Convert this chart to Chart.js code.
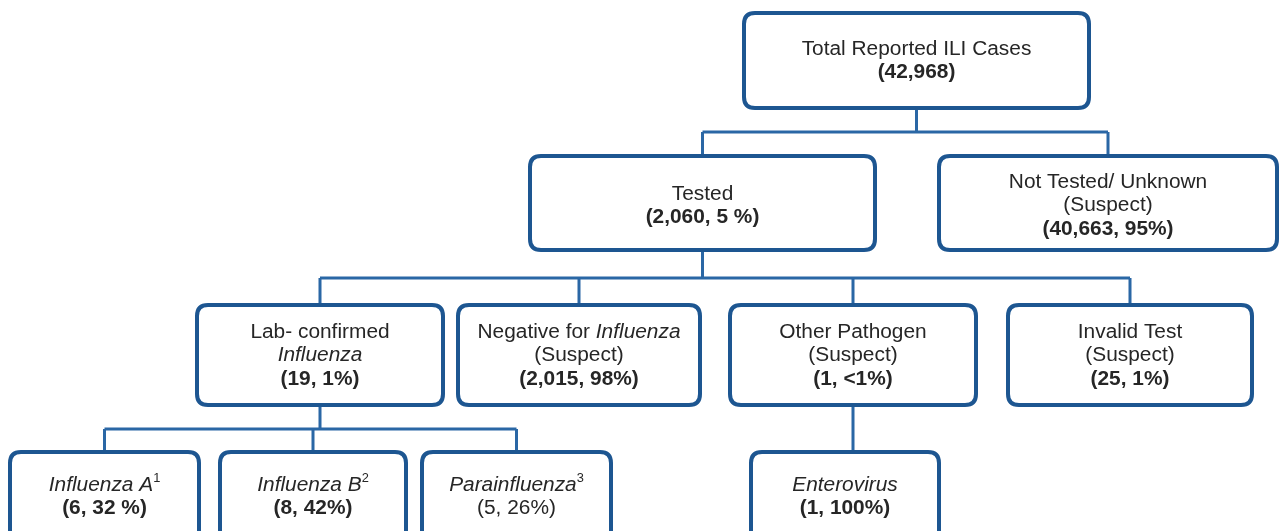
<!DOCTYPE html>
<html>
<head>
<meta charset="utf-8">
<title>ILI cases flow</title>
<script src="https://cdn.jsdelivr.net/npm/chart.js@4.4.1/dist/chart.umd.min.js"></script>
<style>
    html, body { margin: 0; padding: 0; background: #ffffff; }
    #wrap { width: 1280px; height: 531px; }
</style>
</head>
<body>
<div id="wrap"><canvas id="flowChart" width="1280" height="531"></canvas></div>
<script>
    // Node titles: each line is a list of [text, style] runs (n = normal, i = italic, s = superscript)
    const nodeTitles = [
        [[['Total Reported ILI Cases', 'n']]],
        [[['Tested', 'n']]],
        [[['Not Tested/ Unknown', 'n']], [['(Suspect)', 'n']]],
        [[['Lab- confirmed', 'n']], [['Influenza', 'i']]],
        [[['Negative for ', 'n'], ['Influenza', 'i']], [['(Suspect)', 'n']]],
        [[['Other Pathogen', 'n']], [['(Suspect)', 'n']]],
        [[['Invalid Test', 'n']], [['(Suspect)', 'n']]],
        [[['Influenza A', 'i'], ['1', 's']]],
        [[['Influenza B', 'i'], ['2', 's']]],
        [[['Parainfluenza', 'i'], ['3', 's']]],
        [[['Enterovirus', 'i']]]
    ];
    const nodeCounts = [42968, 2060, 40663, 19, 2015, 1, 25, 6, 8, 5, 1];
    const nodePercents = ['', '5 %', '95%', '1%', '98%', '<1%', '1%', '32 %', '42%', '26%', '100%'];
    const countBold = [true, true, true, true, true, true, true, true, true, false, true];
    const nodeParents = [null, 0, 0, 1, 1, 1, 1, 3, 3, 3, 5];

    // Layout of the boxes in chart units (x: 0-1280, y: 0-531 top down)
    const boxLeft   = [744, 530, 939, 197, 458, 730, 1008, 10, 220, 422, 751];
    const boxRight  = [1089, 875, 1277, 443, 700, 976, 1252, 199, 406, 611, 939];
    const rowTop    = [13, 156, 305, 452];
    const rowBottom = [108, 250, 405, 570];
    const rowTextMid = [61, 206, 356, 497];
    const nodeRow   = [0, 1, 1, 2, 2, 2, 2, 3, 3, 3, 3];
    const busY = { 0: 132, 1: 278, 3: 429 };

    const BORDER = '#1d5691';
    const LINK = '#2a67a5';
    const FONT = '"Liberation Sans", Arial, sans-serif';
    const FONT_SIZE = 19.5;
    const TEXT_STRETCH = 1.07;
    const LINE_GAP = 23.5;

    function centerX(i) { return (boxLeft[i] + boxRight[i]) / 2; }

    // Build connector segments as line datasets
    function buildLinks() {
        const sets = [];
        const seg = (pts) => sets.push({
            data: pts,
            showLine: true,
            borderColor: LINK,
            borderWidth: 3,
            pointRadius: 0,
            fill: false,
            tension: 0
        });
        nodeTitles.forEach((_, p) => {
            const kids = nodeParents.map((par, k) => par === p ? k : -1).filter(k => k >= 0);
            if (!kids.length) return;
            const px = centerX(p);
            const pBottom = rowBottom[nodeRow[p]];
            if (kids.length === 1) {
                seg([{ x: px, y: pBottom }, { x: px, y: rowTop[nodeRow[kids[0]]] }]);
                return;
            }
            const by = busY[p];
            const xs = kids.map(centerX);
            seg([{ x: px, y: pBottom }, { x: px, y: by }]);
            seg([{ x: Math.min(...xs), y: by }, { x: Math.max(...xs), y: by }]);
            kids.forEach(k => seg([{ x: centerX(k), y: by }, { x: centerX(k), y: rowTop[nodeRow[k]] }]));
        });
        return sets;
    }

    function roundRect(ctx, x, y, w, h, r) {
        ctx.beginPath();
        ctx.moveTo(x + r, y);
        ctx.lineTo(x + w - r, y);
        ctx.quadraticCurveTo(x + w, y, x + w, y + r);
        ctx.lineTo(x + w, y + h - r);
        ctx.quadraticCurveTo(x + w, y + h, x + w - r, y + h);
        ctx.lineTo(x + r, y + h);
        ctx.quadraticCurveTo(x, y + h, x, y + h - r);
        ctx.lineTo(x, y + r);
        ctx.quadraticCurveTo(x, y, x + r, y);
        ctx.closePath();
    }

    function runFont(style) {
        if (style === 'i') return 'italic ' + FONT_SIZE + 'px ' + FONT;
        if (style === 'b') return 'bold ' + FONT_SIZE + 'px ' + FONT;
        if (style === 's') return '12px ' + FONT;
        return FONT_SIZE + 'px ' + FONT;
    }

    // Draw one centred line made of mixed-style runs (scan text is a bit wide, hence the stretch)
    function drawLine(ctx, runs, cx, cy) {
        let total = 0;
        const widths = runs.map(r => {
            ctx.font = runFont(r[1]);
            const w = ctx.measureText(r[0]).width;
            total += w;
            return w;
        });
        ctx.save();
        ctx.translate(cx, cy);
        ctx.scale(TEXT_STRETCH, 1);
        let x = -total / 2;
        runs.forEach((r, j) => {
            ctx.font = runFont(r[1]);
            ctx.fillText(r[0], x, r[1] === 's' ? -7 : 0);
            x += widths[j];
        });
        ctx.restore();
    }

    const boxPlugin = {
        id: 'boxes',
        afterDatasetsDraw(chart) {
            const ctx = chart.ctx;
            const xs = chart.scales.x;
            const ys = chart.scales.y;
            ctx.save();
            nodeTitles.forEach((title, i) => {
                const row = nodeRow[i];
                const x0 = xs.getPixelForValue(boxLeft[i]);
                const x1 = xs.getPixelForValue(boxRight[i]);
                const y0 = ys.getPixelForValue(rowTop[row]);
                const y1 = ys.getPixelForValue(rowBottom[row]);
                roundRect(ctx, x0, y0, x1 - x0, y1 - y0, 11);
                ctx.fillStyle = '#ffffff';
                ctx.fill();
                ctx.lineWidth = 4;
                ctx.strokeStyle = BORDER;
                ctx.stroke();

                // text lines: title lines + count line
                const count = nodeCounts[i].toLocaleString('en-US');
                const pct = nodePercents[i];
                const countText = pct ? '(' + count + ', ' + pct + ')' : '(' + count + ')';
                const lines = title.concat([[[countText, countBold[i] ? 'b' : 'n']]]);
                const mid = ys.getPixelForValue(rowTextMid[row]);
                const start = mid - (lines.length - 1) * LINE_GAP / 2;
                ctx.fillStyle = '#262626';
                ctx.textBaseline = 'middle';
                ctx.textAlign = 'left';
                lines.forEach((runs, j) => drawLine(ctx, runs, (x0 + x1) / 2, start + j * LINE_GAP));
            });
            ctx.restore();
        }
    };

    new Chart(document.getElementById('flowChart').getContext('2d'), {
        type: 'scatter',
        data: { datasets: buildLinks() },
        options: {
            responsive: false,
            animation: false,
            layout: { padding: 0 },
            scales: {
                x: { type: 'linear', min: 0, max: 1280, display: false },
                y: { type: 'linear', min: 0, max: 531, reverse: true, display: false }
            },
            plugins: {
                legend: { display: false },
                tooltip: { enabled: false }
            }
        },
        plugins: [boxPlugin]
    });
</script>
</body>
</html>
